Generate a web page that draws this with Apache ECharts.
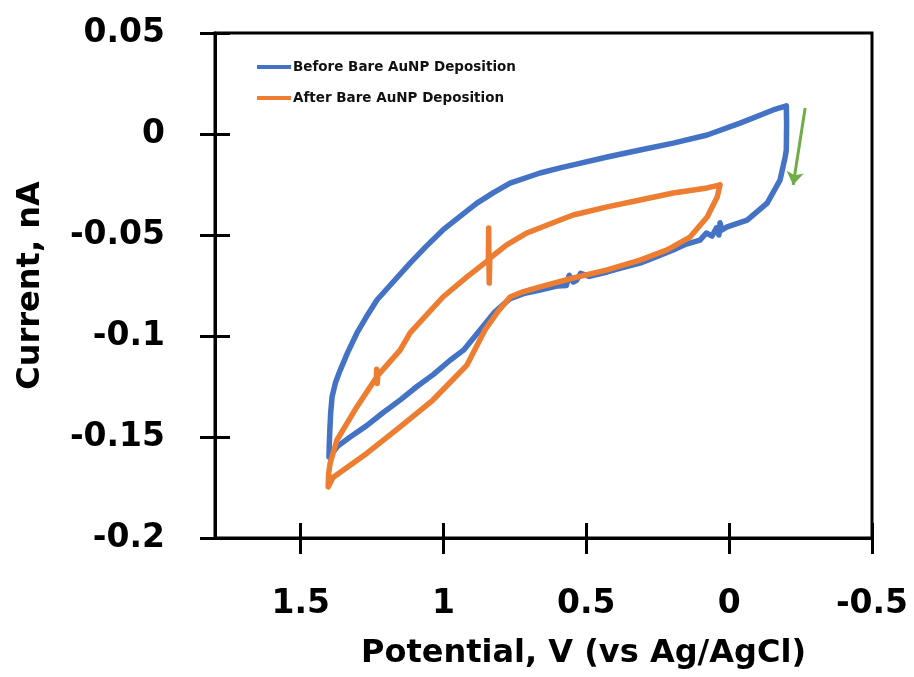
<!DOCTYPE html>
<html>
<head>
<meta charset="utf-8">
<script src="https://cdn.jsdelivr.net/npm/echarts@6/dist/echarts.min.js"></script>
<style>
html,body{margin:0;padding:0;background:#fff;}
#chart{width:914px;height:677px;}
</style>
</head>
<body>
<div id="chart"></div>
<script>
// ---- Data (Potential V, Current nA) ----
var seriesNames = ['Before Bare AuNP Deposition', 'After Bare AuNP Deposition'];

var beforeV = [-0.200,-0.201,-0.200,-0.196,-0.178,-0.133,-0.063,0.007,0.025,0.032,0.036,0.045,0.060,0.080,0.102,0.150,0.196,0.250,0.312,0.370,0.427,0.490,0.520,0.535,0.546,0.560,0.570,0.600,0.662,0.720,0.767,0.820,0.872,0.930,0.977,1.035,1.093,1.150,1.212,1.270,1.327,1.370,1.390,1.401,1.400,1.398,1.395,1.390,1.378,1.362,1.335,1.303,1.270,1.233,1.175,1.117,1.060,1.002,0.940,0.883,0.825,0.767,0.662,0.592,0.546,0.427,0.312,0.196,0.077,-0.038,-0.154,-0.200];
var beforeI = [0.0139,0.0054,-0.0079,-0.0114,-0.0228,-0.0342,-0.0426,-0.0460,-0.0475,-0.0440,-0.0500,-0.0465,-0.0505,-0.0490,-0.0525,-0.0545,-0.0574,-0.0605,-0.0639,-0.0660,-0.0683,-0.0705,-0.0690,-0.0725,-0.0733,-0.0700,-0.0750,-0.0752,-0.0772,-0.0790,-0.0815,-0.0880,-0.0970,-0.1070,-0.1120,-0.1190,-0.1250,-0.1315,-0.1380,-0.1445,-0.1500,-0.1545,-0.1580,-0.1600,-0.1540,-0.1465,-0.1380,-0.1300,-0.1230,-0.1170,-0.1080,-0.0985,-0.0905,-0.0822,-0.0730,-0.0639,-0.0555,-0.0475,-0.0405,-0.0342,-0.0290,-0.0243,-0.0193,-0.0168,-0.0153,-0.0114,-0.0079,-0.0045,-0.0005,0.0054,0.0119,0.0139];

var afterV = [0.032,0.042,0.077,0.137,0.217,0.312,0.427,0.546,0.662,0.720,0.767,0.810,0.855,0.918,1.037,1.152,1.268,1.387,1.404,1.402,1.397,1.373,1.303,1.235,1.234,1.232,1.230,1.152,1.117,1.002,0.920,0.843,0.842,0.840,0.838,0.780,0.708,0.592,0.546,0.427,0.312,0.196,0.077,0.032];
var afterI = [-0.0252,-0.0312,-0.0411,-0.0510,-0.0574,-0.0624,-0.0673,-0.0713,-0.0757,-0.0780,-0.0807,-0.0880,-0.0970,-0.1144,-0.1317,-0.1450,-0.1580,-0.1700,-0.1747,-0.1680,-0.1630,-0.1515,-0.1350,-0.1205,-0.1165,-0.1235,-0.1195,-0.1070,-0.0985,-0.0807,-0.0710,-0.0624,-0.0465,-0.0738,-0.0615,-0.0550,-0.0490,-0.0426,-0.0401,-0.0361,-0.0327,-0.0292,-0.0267,-0.0252];

// scan-direction arrow (data units)
var arrowStart = [-0.266, 0.0129];
var arrowEnd = [-0.224, -0.0252];

// axis ranges / ticks
var xMin = -0.5, xMax = 1.8, xInterval = 0.5;
var yMin = -0.2, yMax = 0.05, yInterval = 0.05;
var xTitle = 'Potential, V (vs Ag/AgCl)';
var yTitle = 'Current, nA';

function zip(a, b) { var r = []; for (var i = 0; i < a.length; i++) r.push([a[i], b[i]]); return r; }

var FONT = 'DejaVu Sans';
var chart = echarts.init(document.getElementById('chart'), null, {renderer: 'canvas'});

function xLabel(v) {
  var s = Math.round(v * 10) / 10;
  if (Math.abs(s - 1.8) < 1e-6) return '';
  return String(s);
}
function yLabel(v) {
  var s = Math.round(v * 100) / 100;
  return String(s);
}

var axisLineStyle = {color: '#000', width: 3};

chart.setOption({
  animation: false,
  backgroundColor: '#fff',
  grid: {left: 215, right: 42, top: 33, bottom: 139, show: true, borderColor: '#000', borderWidth: 3, containLabel: false},
  legend: {
    data: seriesNames.map(function (n) { return {name: n, icon: 'rect'}; }),
    orient: 'vertical', left: 252, top: 55, itemWidth: 34, itemHeight: 4, itemGap: 17,
    textStyle: {fontFamily: FONT, fontWeight: 'bold', fontSize: 13.5, color: '#111', padding: [0, 0, 0, -3]}
  },
  xAxis: [{
    type: 'value', min: xMin, max: xMax, inverse: true, interval: xInterval,
    axisLine: {show: true, onZero: false, lineStyle: axisLineStyle},
    axisTick: {show: true, inside: false, length: 16, lineStyle: {color: '#000', width: 3}},
    axisLabel: {formatter: xLabel, fontFamily: FONT, fontWeight: 'bold', fontSize: 33, color: '#000', margin: 50, showMaxLabel: false},
    splitLine: {show: false},
    name: xTitle, nameLocation: 'middle', nameGap: 100,
    nameTextStyle: {fontFamily: FONT, fontWeight: 'bold', fontSize: 32, color: '#000', padding: [0, 0, 0, 80]}
  }, {
    type: 'value', min: xMin, max: xMax, inverse: true, interval: xInterval, position: 'bottom',
    axisLine: {show: false, onZero: false},
    axisTick: {show: true, inside: true, length: 15, lineStyle: {color: '#000', width: 3}},
    axisLabel: {show: false}, splitLine: {show: false}
  }],
  yAxis: [{
    type: 'value', min: yMin, max: yMax, interval: yInterval,
    axisLine: {show: true, onZero: false, lineStyle: axisLineStyle},
    axisTick: {show: true, inside: false, length: 15, lineStyle: {color: '#000', width: 3}},
    axisLabel: {formatter: yLabel, fontFamily: FONT, fontWeight: 'bold', fontSize: 33, color: '#000', margin: 50},
    splitLine: {show: false},
    name: yTitle, nameLocation: 'middle', nameGap: 168, nameRotate: 90,
    nameTextStyle: {fontFamily: FONT, fontWeight: 'bold', fontSize: 32, color: '#000'}
  }, {
    type: 'value', min: yMin, max: yMax, interval: yInterval, position: 'left',
    axisLine: {show: false, onZero: false},
    axisTick: {show: true, inside: true, length: 15, lineStyle: {color: '#000', width: 3}},
    axisLabel: {show: false}, splitLine: {show: false}
  }],
  series: [{
    name: seriesNames[0], type: 'line', xAxisIndex: 0, yAxisIndex: 0,
    data: zip(beforeV, beforeI), showSymbol: false, symbol: 'none',
    lineStyle: {color: '#4472C4', width: 5.5, join: 'round', cap: 'round'},
    itemStyle: {color: '#4472C4'}, z: 2
  }, {
    name: seriesNames[1], type: 'line', xAxisIndex: 0, yAxisIndex: 0,
    data: zip(afterV, afterI), showSymbol: false, symbol: 'none',
    lineStyle: {color: '#ED7D31', width: 5.5, join: 'round', cap: 'round'},
    itemStyle: {color: '#ED7D31'}, z: 3
  }, {
    name: 'arrow', type: 'line', xAxisIndex: 0, yAxisIndex: 0, data: [], symbol: 'none',
    markLine: {
      silent: true, symbol: ['none', 'arrow'], symbolSize: 13, label: {show: false},
      lineStyle: {color: '#70AD47', width: 3, type: 'solid'},
      data: [[{coord: arrowStart}, {coord: arrowEnd}]]
    }
  }]
});
</script>
</body>
</html>
